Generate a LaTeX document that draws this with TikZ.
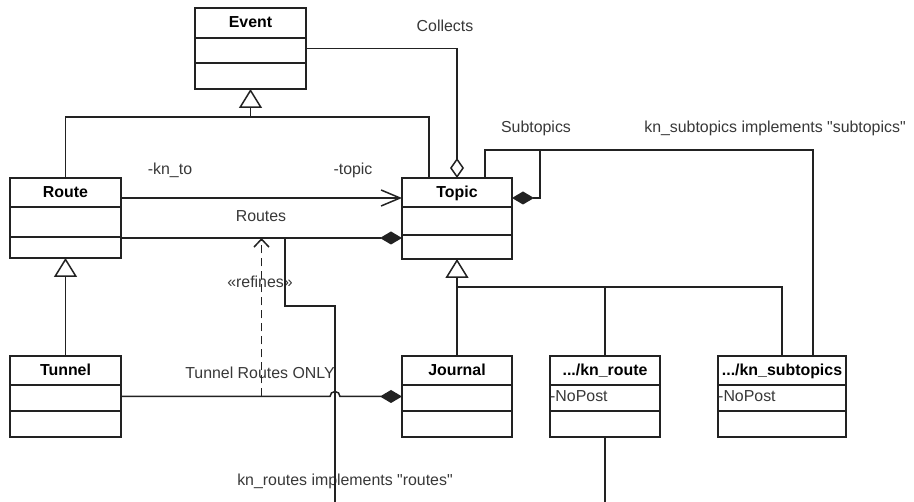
\documentclass[tikz,border=0pt]{standalone}
\usepackage{fontspec}
\setmainfont{Liberation Sans}[Ligatures=TeXOff]
\usetikzlibrary{arrows.meta,calc}

\definecolor{linec}{HTML}{222222}
\definecolor{textc}{HTML}{383838}

\tikzset{
  line/.style={draw=linec, line width=1.5pt},
  classbox/.style={draw=linec, line width=1.5pt, fill=white, inner sep=0pt, outer sep=0pt},
  classname/.style={font=\fontsize{15.9}{18}\selectfont\bfseries, text=black, anchor=base, inner sep=0pt},
  lbl/.style={font=\fontsize{15.9}{18}\selectfont, text=textc, anchor=base, inner sep=0pt},
  depline/.style={line, dash pattern=on 8pt off 5pt},
  genTip/.tip={Triangle[length=19pt,width=23pt,fill=white]},
  compTip/.tip={Diamond[length=22pt,width=13pt]},
  aggTip/.tip={Diamond[length=20pt,width=14pt,fill=white]},
  navTip/.tip={Straight Barb[length=19pt,width=16pt]},
  depTip/.tip={Straight Barb[length=8pt,width=15pt]},
}

% class box: name, cx, cy, width, height, first divider, second divider, title
\newcommand\umlclass[8]{%
  \node[classbox, minimum width=#4pt, minimum height=#5pt] (#1) at (#2,#3) {};
  \draw[line] ([yshift=-#6pt]#1.north west) -- ([yshift=-#6pt]#1.north east);
  \draw[line] ([yshift=-#7pt]#1.north west) -- ([yshift=-#7pt]#1.north east);
  \node[classname] (#1-title) at ([yshift=-20pt]#1.north) {#8};
}

\begin{document}
\begin{tikzpicture}[x=1pt,y=-1pt]
  \fill[white] (0,0) rectangle (914,502);
  \useasboundingbox (0,0) rectangle (914,502);

  % classes
  \umlclass{event}{250.5}{48.5}{111}{81}{30}{55}{Event}
  \umlclass{route}{65.5}{218}{111}{80}{29}{59}{Route}
  \umlclass{topic}{457}{218.5}{110}{81}{29}{57}{Topic}
  \umlclass{tunnel}{65.5}{396.5}{111}{81}{29}{55}{Tunnel}
  \umlclass{journal}{457}{396.5}{110}{81}{29}{55}{Journal}
  \umlclass{knroute}{605}{396.5}{110}{81}{29}{55}{.../kn\_route}
  \umlclass{knsub}{782}{396.5}{128}{81}{29}{55}{.../kn\_subtopics}
  \node[lbl, anchor=base west] (np1) at ([yshift=-46pt]knroute.north west) {-NoPost};
  \node[lbl, anchor=base west] (np2) at ([yshift=-46pt]knsub.north west) {-NoPost};

  % labels
  \node[lbl] (lCollects) at (445,32) {Collects};
  \node[lbl] (lKnTo) at (170,175) {-kn\_to};
  \node[lbl] (lTopic) at (353,175) {-topic};
  \node[lbl] (lRoutes) at (261,222) {Routes};
  \node[lbl] (lSub) at (536,133) {Subtopics};
  \node[lbl] (lSubImpl) at (775,133) {kn\_subtopics implements "subtopics"};
  \node[lbl] (lRefines) at (260,288) {«refines»};
  \node[lbl] (lTunnel) at (260,379) {Tunnel Routes ONLY};
  \node[lbl] (lRoutesImpl) at (345,486) {kn\_routes implements "routes"};

  % Route and Topic specialise Event
  \coordinate (evJ) at (250.5,117);
  \draw[line] (route.north) |- (evJ) -| ([xshift=-28pt]topic.north);
  \draw[line, -genTip] (evJ) -- (event.south);

  % Collects aggregation
  \draw[line, -aggTip] (event.east) -| (topic.north);

  % -kn_to navigation
  \draw[line, -navTip] ([yshift=-20pt]route.north east) -- ([yshift=-20pt]topic.north west);

  % Routes composition
  \draw[line, -compTip] ([yshift=-60pt]route.north east)
     -- coordinate[pos=0.5] (rtMid) coordinate[pos=0.5836] (rtImpl)
        ([yshift=-60pt]topic.north west);

  % Tunnel Routes ONLY composition, hopping over the routes implementation line
  \coordinate (tnMid) at ($(tunnel.east)!0.5!(journal.west)$);
  \coordinate (hop) at (335,396.5);
  \draw[line, -compTip] (tunnel.east) -- ([xshift=-5pt]hop)
     arc[start angle=180, end angle=0, radius=5pt] -- (journal.west);

  % refines dependency
  \draw[depline, -depTip] (tnMid) -- (rtMid);

  % kn_routes implements "routes"
  \coordinate (krBend) at (335,306);
  \coordinate (krEnd) at (335,502);
  \draw[line] (rtImpl) |- (krBend) -- (krEnd);

  % Subtopics self composition and kn_subtopics link
  \coordinate (stC) at (540,150);
  \draw[line] ([xshift=-27pt]topic.north east) |- (stC) -| ([xshift=31pt]knsub.north);
  \draw[line, -compTip] (stC) |- ([yshift=-20pt]topic.north east);

  % Journal, kn_route, kn_subtopics specialise Topic
  \coordinate (tpJ) at (457,287);
  \draw[line, -genTip] (tpJ) -- (topic.south);
  \draw[line] (journal.north) -- (tpJ) -| (knsub.north);
  \draw[line] (tpJ) -| (knroute.north);

  % Tunnel specialises Route
  \draw[line, -genTip] (tunnel.north) -- (route.south);

  % kn_route outgoing line
  \coordinate (knEnd) at (605,502);
  \draw[line] (knroute.south) -- (knEnd);
\end{tikzpicture}
\end{document}
